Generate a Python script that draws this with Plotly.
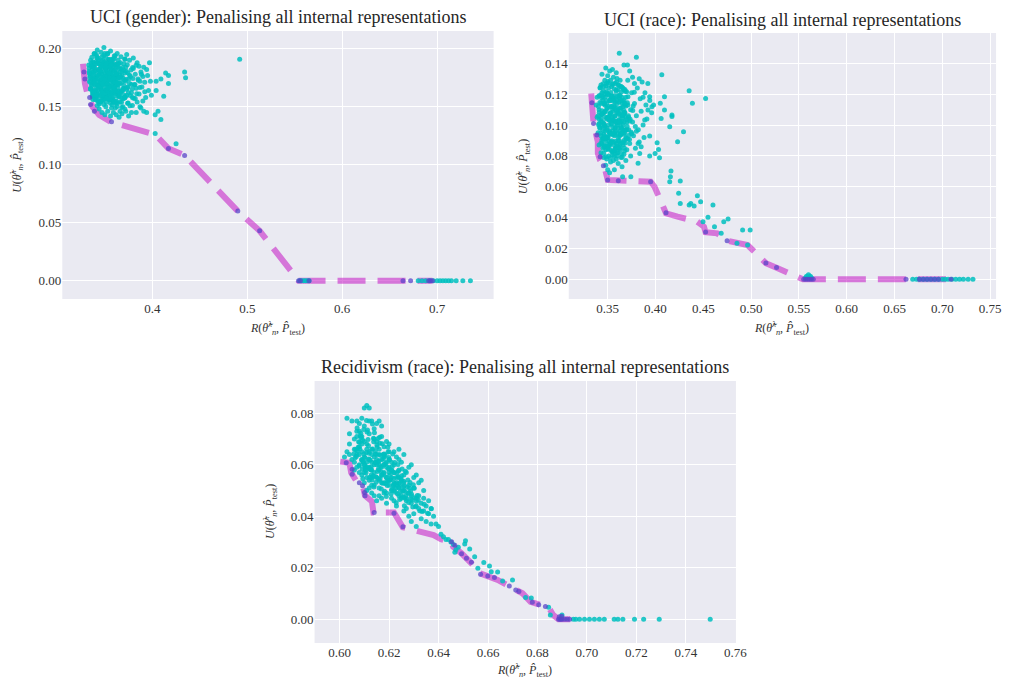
import plotly.graph_objects as go

# ---------------- UCI (gender) ----------------
gender_front_R = [0.327, 0.329, 0.332, 0.337, 0.344, 0.356, 0.403, 0.417, 0.434, 0.490, 0.513, 0.554, 0.565, 0.664, 0.672, 0.691, 0.695]
gender_front_U = [0.187, 0.170, 0.160, 0.150, 0.143, 0.137, 0.126, 0.114, 0.108, 0.060, 0.043, 0.0, 0.0, 0.0, 0.0, 0.0, 0.0]
gender_pareto_R = [0.328, 0.329, 0.334, 0.335, 0.339, 0.357, 0.417, 0.434, 0.490, 0.513, 0.554, 0.556, 0.565, 0.664, 0.672, 0.691, 0.693, 0.695]
gender_pareto_U = [0.180, 0.174, 0.158, 0.152, 0.146, 0.137, 0.114, 0.108, 0.060, 0.043, 0.0, 0.0, 0.0, 0.0, 0.0, 0.0, 0.0, 0.0]
gender_cloud_R = [
    0.333, 0.336, 0.338, 0.335, 0.339, 0.341, 0.343, 0.340, 0.344, 0.342,
    0.345, 0.347, 0.346, 0.348, 0.349, 0.347, 0.350, 0.351, 0.352, 0.353,
    0.354, 0.352, 0.355, 0.356, 0.357, 0.358, 0.356, 0.359, 0.360, 0.358,
    0.361, 0.362, 0.363, 0.361, 0.364, 0.365, 0.363, 0.366, 0.337, 0.339,
    0.334, 0.336, 0.338, 0.340, 0.342, 0.341, 0.344, 0.346, 0.345, 0.343,
    0.348, 0.349, 0.350, 0.351, 0.353, 0.352, 0.354, 0.355, 0.357, 0.356,
    0.359, 0.360, 0.358, 0.361, 0.362, 0.364, 0.365, 0.363, 0.366, 0.367,
    0.368, 0.369, 0.370, 0.371, 0.372, 0.370, 0.373, 0.374, 0.372, 0.335,
    0.337, 0.339, 0.340, 0.342, 0.344, 0.346, 0.348, 0.350, 0.352, 0.354,
    0.355, 0.357, 0.359, 0.361, 0.362, 0.364, 0.366, 0.368, 0.369, 0.371,
    0.334, 0.338, 0.341, 0.343, 0.345, 0.347, 0.349, 0.351, 0.353, 0.355,
    0.357, 0.359, 0.360, 0.362, 0.364, 0.366, 0.368, 0.370, 0.372, 0.374,
    0.376, 0.377, 0.378, 0.379, 0.380, 0.381, 0.382, 0.383, 0.384, 0.385,
    0.386, 0.387, 0.388, 0.389, 0.390, 0.391, 0.392, 0.393, 0.394, 0.395,
    0.396, 0.397, 0.398, 0.399, 0.376, 0.378, 0.380, 0.382, 0.384, 0.386,
    0.388, 0.390, 0.392, 0.394, 0.379, 0.383, 0.387, 0.391, 0.375, 0.373,
    0.339, 0.342, 0.346, 0.349, 0.353, 0.356, 0.360, 0.363, 0.367, 0.371,
    0.344, 0.347, 0.350, 0.353, 0.356, 0.359, 0.362, 0.365, 0.368, 0.371,
    0.336, 0.338, 0.340, 0.342, 0.344, 0.346, 0.348, 0.350, 0.352, 0.354,
    0.356, 0.358, 0.360, 0.362, 0.345, 0.349, 0.353, 0.357, 0.347, 0.351,
    0.3335, 0.3347, 0.3362, 0.3371, 0.3384, 0.3393, 0.3405, 0.3417, 0.3428, 0.3436,
    0.3449, 0.3458, 0.3466, 0.3477, 0.3489, 0.3495, 0.3508, 0.3516, 0.3527, 0.3539,
    0.3544, 0.3558, 0.3563, 0.3577, 0.3585, 0.3596, 0.3604, 0.3615, 0.3626, 0.3638,
    0.3341, 0.3356, 0.3368, 0.3379, 0.3387, 0.3398, 0.3411, 0.3423, 0.3432, 0.3441,
    0.3453, 0.3464, 0.3472, 0.3483, 0.3491, 0.3503, 0.3512, 0.3524, 0.3533, 0.3547,
    0.3552, 0.3569, 0.3574, 0.3581, 0.3592, 0.3607, 0.3618, 0.3631, 0.3645, 0.3657,
    0.3338, 0.3352, 0.3365, 0.3376, 0.3392, 0.3403, 0.3414, 0.3426, 0.3439, 0.3445,
    0.3457, 0.3469, 0.3481, 0.3493, 0.3506, 0.3518, 0.3529, 0.3537, 0.3549, 0.3561,
    0.3572, 0.3588, 0.3599, 0.3611, 0.3622, 0.3641, 0.3652, 0.3668, 0.3675, 0.3689,
    0.3694, 0.3702, 0.3715, 0.3723, 0.3736, 0.3748, 0.3759, 0.3764, 0.3781, 0.3793,
    0.3343, 0.3358, 0.3369, 0.3382, 0.3395, 0.3401, 0.3413, 0.3421, 0.3434, 0.3447,
    0.3452, 0.3461, 0.3474, 0.3486, 0.3498, 0.3502, 0.3513, 0.3526, 0.3531, 0.3542,
    0.3556, 0.3565, 0.3579, 0.3583, 0.3594, 0.3608, 0.3613, 0.3624, 0.3636, 0.3649,
    0.3654, 0.3663, 0.3677, 0.3682, 0.3696, 0.3708, 0.3713, 0.3727, 0.3739, 0.3745,
    0.3337, 0.3349, 0.3363, 0.3374, 0.3386, 0.3397, 0.3409, 0.3418, 0.3431, 0.3443,
    0.3455, 0.3467, 0.3479, 0.3484, 0.3497, 0.3509, 0.3514, 0.3528, 0.3535, 0.3548,
    0.3559, 0.3567, 0.3576, 0.3587, 0.3598, 0.3606, 0.3617, 0.3629, 0.3634, 0.3647,
    0.3659, 0.3666, 0.3678, 0.3687, 0.3699, 0.3711, 0.3724, 0.3738, 0.3752, 0.3767,
    0.3775, 0.3788, 0.3796, 0.3804, 0.3817, 0.3829, 0.3836, 0.3852, 0.3868, 0.3885,
    0.492, 0.434, 0.435, 0.414, 0.417, 0.417, 0.409, 0.404, 0.404, 0.412,
    0.406, 0.403, 0.409, 0.403, 0.425,
    0.555, 0.557, 0.559, 0.561, 0.563, 0.565, 0.680, 0.684, 0.688, 0.692,
    0.696, 0.700, 0.703, 0.706, 0.709, 0.712, 0.715, 0.720, 0.727, 0.735,
]
gender_cloud_U = [
    0.186, 0.179, 0.171, 0.165, 0.158, 0.189, 0.182, 0.175, 0.168, 0.161,
    0.154, 0.193, 0.185, 0.177, 0.170, 0.163, 0.157, 0.150, 0.188, 0.181,
    0.174, 0.167, 0.160, 0.153, 0.191, 0.184, 0.178, 0.171, 0.164, 0.158,
    0.149, 0.186, 0.179, 0.172, 0.166, 0.159, 0.153, 0.146, 0.183, 0.176,
    0.172, 0.168, 0.162, 0.156, 0.151, 0.195, 0.187, 0.180, 0.173, 0.165,
    0.159, 0.152, 0.196, 0.183, 0.176, 0.170, 0.163, 0.156, 0.149, 0.188,
    0.181, 0.175, 0.168, 0.161, 0.155, 0.190, 0.183, 0.176, 0.170, 0.163,
    0.157, 0.150, 0.187, 0.179, 0.172, 0.166, 0.160, 0.153, 0.146, 0.190,
    0.160, 0.184, 0.169, 0.177, 0.159, 0.171, 0.186, 0.164, 0.178, 0.191,
    0.168, 0.175, 0.162, 0.182, 0.169, 0.175, 0.180, 0.171, 0.164, 0.158,
    0.178, 0.188, 0.163, 0.192, 0.162, 0.156, 0.181, 0.173, 0.160, 0.184,
    0.165, 0.154, 0.187, 0.178, 0.161, 0.154, 0.177, 0.160, 0.184, 0.167,
    0.190, 0.176, 0.162, 0.151, 0.183, 0.169, 0.157, 0.145, 0.188, 0.174,
    0.161, 0.150, 0.180, 0.167, 0.155, 0.184, 0.171, 0.158, 0.145, 0.177,
    0.164, 0.188, 0.172, 0.160, 0.170, 0.145, 0.192, 0.178, 0.154, 0.185,
    0.149, 0.176, 0.163, 0.182, 0.158, 0.166, 0.172, 0.146, 0.142, 0.195,
    0.196, 0.199, 0.197, 0.201, 0.196, 0.198, 0.194, 0.196, 0.193, 0.191,
    0.148, 0.145, 0.143, 0.146, 0.142, 0.145, 0.143, 0.141, 0.144, 0.148,
    0.174, 0.180, 0.164, 0.171, 0.178, 0.165, 0.174, 0.169, 0.162, 0.178,
    0.171, 0.176, 0.168, 0.163, 0.183, 0.188, 0.186, 0.182, 0.168, 0.158,
    0.1832, 0.1763, 0.1694, 0.1887, 0.1628, 0.1805, 0.1741, 0.1917, 0.1553, 0.1679,
    0.1866, 0.1597, 0.1783, 0.1712, 0.1941, 0.1649, 0.1821, 0.1538, 0.1756, 0.1688,
    0.1903, 0.1619, 0.1797, 0.1724, 0.1571, 0.1858, 0.1663, 0.1779, 0.1592, 0.1731,
    0.1752, 0.1873, 0.1585, 0.1728, 0.1956, 0.1651, 0.1808, 0.1686, 0.1769, 0.1524,
    0.1724, 0.1896, 0.1637, 0.1842, 0.1579, 0.1763, 0.1921, 0.1705, 0.1846, 0.1613,
    0.1789, 0.1668, 0.1883, 0.1559, 0.1743, 0.1817, 0.1695, 0.1868, 0.1634, 0.1772,
    0.1794, 0.1657, 0.1845, 0.1611, 0.1742, 0.1583, 0.1934, 0.1547, 0.1819, 0.1706,
    0.1675, 0.1739, 0.1558, 0.1884, 0.1792, 0.1643, 0.1731, 0.1877, 0.1561, 0.1835,
    0.1627, 0.1909, 0.1713, 0.1546, 0.1857, 0.1689, 0.1602, 0.1826, 0.1539, 0.1748,
    0.1655, 0.1813, 0.1587, 0.1736, 0.1862, 0.1623, 0.1774, 0.1508, 0.1691, 0.1839,
    0.1712, 0.1853, 0.1627, 0.1779, 0.1694, 0.1868, 0.1591, 0.1744, 0.1901, 0.1663,
    0.1808, 0.1549, 0.1695, 0.1852, 0.1603, 0.1761, 0.1879, 0.1648, 0.1797, 0.1566,
    0.1734, 0.1895, 0.1612, 0.1785, 0.1661, 0.1937, 0.1529, 0.1708, 0.1846, 0.1586,
    0.1753, 0.1879, 0.1637, 0.1806, 0.1569, 0.1728, 0.1912, 0.1651, 0.1794, 0.1532,
    0.1805, 0.1655, 0.1926, 0.1562, 0.1839, 0.1723, 0.1599, 0.1874, 0.1677, 0.1815,
    0.1542, 0.1751, 0.1898, 0.1616, 0.1732, 0.1842, 0.1574, 0.1957, 0.1661, 0.1787,
    0.1605, 0.1861, 0.1518, 0.1744, 0.1915, 0.1639, 0.1783, 0.1502, 0.1701, 0.1873,
    0.1621, 0.1754, 0.1493, 0.1838, 0.1682, 0.1578, 0.1806, 0.1664, 0.1739, 0.1597,
    0.1816, 0.1652, 0.1743, 0.1574, 0.1691, 0.1857, 0.1612, 0.1728, 0.1665, 0.1781,
    0.191, 0.180, 0.175, 0.179, 0.177, 0.170, 0.174, 0.172, 0.164, 0.159,
    0.146, 0.143, 0.139, 0.127, 0.118,
    0.0, 0.0, 0.0, 0.0, 0.0, 0.0, 0.0, 0.0, 0.0, 0.0,
    0.0, 0.0, 0.0, 0.0, 0.0, 0.0, 0.0, 0.0, 0.0, 0.0,
]

# ---------------- UCI (race) ----------------
race_front_R = [0.3328, 0.3335, 0.3352, 0.3397, 0.3397, 0.342, 0.3466, 0.350, 0.3949, 0.399, 0.411, 0.4231, 0.4438, 0.4507, 0.4524, 0.4645, 0.4749, 0.4963, 0.5155, 0.5266, 0.5542, 0.7128]
race_front_U = [0.1205, 0.108, 0.101, 0.0892, 0.0817, 0.0773, 0.073, 0.0644, 0.0633, 0.060, 0.0428, 0.0406, 0.0373, 0.0341, 0.0305, 0.0298, 0.025, 0.0222, 0.0104, 0.0075, 0.0, 0.0]
race_pareto_R = [0.3335, 0.3352, 0.3386, 0.3421, 0.3455, 0.350, 0.3611, 0.3949, 0.411, 0.4524, 0.4749, 0.5155, 0.5266,
                 0.555, 0.557, 0.559, 0.561, 0.563, 0.565, 0.662, 0.676, 0.680, 0.684, 0.688, 0.692, 0.696, 0.709]
race_pareto_U = [0.1145, 0.101, 0.0935, 0.0795, 0.0736, 0.0644, 0.0639, 0.0633, 0.0432, 0.0307, 0.025, 0.0106, 0.0077,
                 0.0, 0.0, 0.0, 0.0, 0.0, 0.0, 0.0, 0.0, 0.0, 0.0, 0.0, 0.0, 0.0, 0.0]
race_cloud_R = [
    0.339, 0.341, 0.343, 0.340, 0.344, 0.342, 0.345, 0.346, 0.347, 0.345,
    0.348, 0.349, 0.350, 0.351, 0.349, 0.352, 0.353, 0.351, 0.354, 0.355,
    0.356, 0.354, 0.357, 0.358, 0.356, 0.359, 0.360, 0.358, 0.361, 0.362,
    0.360, 0.363, 0.364, 0.362, 0.365, 0.366, 0.364, 0.367, 0.368, 0.366,
    0.369, 0.370, 0.368, 0.371, 0.372, 0.370, 0.340, 0.342, 0.343, 0.344,
    0.346, 0.347, 0.348, 0.350, 0.352, 0.353, 0.355, 0.357, 0.359, 0.361,
    0.363, 0.365, 0.367, 0.341, 0.343, 0.346, 0.348, 0.350, 0.353, 0.355,
    0.357, 0.359, 0.361, 0.363, 0.365, 0.367, 0.369, 0.347, 0.350, 0.353,
    0.356, 0.358, 0.361, 0.363, 0.366, 0.344, 0.348, 0.352, 0.355, 0.359,
    0.338, 0.339, 0.341, 0.343, 0.345, 0.349, 0.351, 0.352, 0.354, 0.356,
    0.358, 0.360, 0.362, 0.364, 0.366, 0.368, 0.370, 0.372, 0.374, 0.373,
    0.375, 0.376, 0.377, 0.378, 0.379, 0.380, 0.381, 0.382, 0.383, 0.384,
    0.385, 0.386, 0.387, 0.388, 0.389, 0.390, 0.374, 0.376, 0.378, 0.380,
    0.383, 0.385, 0.387, 0.391, 0.392, 0.394, 0.396, 0.398, 0.371, 0.373,
    0.347, 0.349, 0.351, 0.353, 0.355, 0.357, 0.359, 0.361, 0.363, 0.365,
    0.344, 0.346, 0.348, 0.350, 0.352, 0.354, 0.356, 0.358, 0.360, 0.362,
    0.367, 0.369, 0.371, 0.364, 0.357, 0.352, 0.349, 0.346, 0.343, 0.341,
    0.3412, 0.3425, 0.3437, 0.3446, 0.3458, 0.3463, 0.3471, 0.3482, 0.3494, 0.3503,
    0.3511, 0.3522, 0.3534, 0.3541, 0.3553, 0.3567, 0.3572, 0.3584, 0.3595, 0.3606,
    0.3614, 0.3627, 0.3638, 0.3642, 0.3656, 0.3664, 0.3679, 0.3687, 0.3418, 0.3429,
    0.3441, 0.3452, 0.3467, 0.3476, 0.3488, 0.3497, 0.3506, 0.3518, 0.3529, 0.3536,
    0.3548, 0.3559, 0.3563, 0.3578, 0.3589, 0.3597, 0.3609, 0.3618, 0.3623, 0.3634,
    0.3647, 0.3658, 0.3669, 0.3674, 0.3691, 0.3703, 0.3716, 0.3728, 0.3405, 0.3433,
    0.3456, 0.3474, 0.3491, 0.3515, 0.3538, 0.3557, 0.3574, 0.3592, 0.3613, 0.3631,
    0.3652, 0.3671, 0.3448, 0.3469, 0.3486, 0.3509, 0.3527, 0.3546, 0.3569, 0.3588,
    0.3603, 0.3626, 0.3645, 0.3662, 0.3683, 0.3698, 0.3735, 0.3752, 0.3767, 0.3789,
    0.3403, 0.3416, 0.3422, 0.3435, 0.3448, 0.3451, 0.3465, 0.3473, 0.3484, 0.3496,
    0.3501, 0.3514, 0.3526, 0.3532, 0.3545, 0.3551, 0.3566, 0.3571, 0.3583, 0.3598,
    0.3604, 0.3617, 0.3622, 0.3636, 0.3649, 0.3653, 0.3667, 0.3676, 0.3684, 0.3697,
    0.3409, 0.3427, 0.3439, 0.3444, 0.3459, 0.3468, 0.3479, 0.3487, 0.3499, 0.3508,
    0.3517, 0.3524, 0.3539, 0.3543, 0.3556, 0.3564, 0.3577, 0.3586, 0.3593, 0.3607,
    0.3611, 0.3624, 0.3633, 0.3641, 0.3654, 0.3668, 0.3673, 0.3688, 0.3706, 0.3719,
    0.3442, 0.3461, 0.3478, 0.3493, 0.3512, 0.3533, 0.3549, 0.3568, 0.3587, 0.3605,
    0.3621, 0.3639, 0.3657, 0.3678, 0.3694, 0.3712, 0.3731, 0.3746, 0.3762, 0.3778,
    0.3457, 0.3481, 0.3504, 0.3528, 0.3552, 0.3576, 0.3599, 0.3628, 0.3651, 0.3677,
    0.3621, 0.380, 0.367, 0.3707, 0.4066, 0.4352, 0.4524, 0.4386, 0.4094, 0.405,
    0.4094, 0.4059, 0.4172, 0.4172, 0.4149, 0.4293, 0.4231, 0.4017, 0.4032, 0.4042,
    0.3939, 0.3996, 0.4162, 0.4156, 0.4149, 0.4259, 0.4242, 0.4259, 0.4352, 0.4369,
    0.4404, 0.4438, 0.4472, 0.4601, 0.4497, 0.4549, 0.4617, 0.4714, 0.4759, 0.4687,
    0.4911, 0.499, 0.4963, 0.4852, 0.3939, 0.3962, 0.3921, 0.3887, 0.3939, 0.3818,
    0.3835, 0.3818, 0.3742, 0.3656,
    0.558, 0.560, 0.562, 0.557, 0.563, 0.669, 0.673, 0.676, 0.680, 0.684,
    0.688, 0.692, 0.696, 0.700, 0.703, 0.706, 0.710, 0.714, 0.718, 0.722,
    0.727, 0.732,
]
race_cloud_U = [
    0.118, 0.110, 0.102, 0.095, 0.088, 0.124, 0.116, 0.108, 0.099, 0.091,
    0.084, 0.127, 0.120, 0.112, 0.104, 0.096, 0.088, 0.080, 0.125, 0.117,
    0.109, 0.101, 0.093, 0.085, 0.077, 0.122, 0.114, 0.106, 0.098, 0.090,
    0.082, 0.119, 0.111, 0.103, 0.095, 0.087, 0.079, 0.116, 0.108, 0.100,
    0.092, 0.084, 0.123, 0.113, 0.105, 0.097, 0.106, 0.098, 0.114, 0.121,
    0.094, 0.113, 0.105, 0.092, 0.116, 0.108, 0.096, 0.119, 0.102, 0.110,
    0.094, 0.106, 0.090, 0.087, 0.082, 0.079, 0.074, 0.071, 0.076, 0.083,
    0.071, 0.078, 0.075, 0.084, 0.073, 0.081, 0.077, 0.129, 0.132, 0.129,
    0.131, 0.127, 0.126, 0.129, 0.124, 0.133, 0.137, 0.135, 0.136, 0.134,
    0.113, 0.105, 0.101, 0.093, 0.085, 0.097, 0.100, 0.087, 0.112, 0.103,
    0.096, 0.108, 0.115, 0.099, 0.112, 0.095, 0.102, 0.097, 0.110, 0.088,
    0.121, 0.102, 0.093, 0.114, 0.085, 0.106, 0.124, 0.097, 0.089, 0.117,
    0.109, 0.128, 0.100, 0.092, 0.121, 0.113, 0.080, 0.131, 0.127, 0.096,
    0.130, 0.086, 0.118, 0.104, 0.127, 0.116, 0.108, 0.113, 0.129, 0.135,
    0.120, 0.111, 0.124, 0.117, 0.105, 0.112, 0.088, 0.092, 0.102, 0.118,
    0.107, 0.101, 0.090, 0.085, 0.103, 0.094, 0.089, 0.115, 0.100, 0.085,
    0.107, 0.118, 0.091, 0.125, 0.080, 0.069, 0.078, 0.086, 0.126, 0.119,
    0.1083, 0.0947, 0.1176, 0.1021, 0.0873, 0.1138, 0.0962, 0.1254, 0.1047, 0.0918,
    0.1197, 0.1072, 0.0836, 0.1121, 0.0984, 0.1236, 0.1057, 0.0895, 0.1163, 0.1012,
    0.0856, 0.1109, 0.0937, 0.1214, 0.1046, 0.0889, 0.1132, 0.0968, 0.1147, 0.0882,
    0.1093, 0.1268, 0.0995, 0.1182, 0.0861, 0.1108, 0.1273, 0.0951, 0.1076, 0.1189,
    0.0824, 0.1031, 0.1152, 0.0977, 0.1228, 0.0863, 0.1084, 0.1177, 0.0929, 0.1058,
    0.1247, 0.0973, 0.1096, 0.0851, 0.1124, 0.0992, 0.1061, 0.0907, 0.1002, 0.1042,
    0.1221, 0.0909, 0.1138, 0.0863, 0.1006, 0.1164, 0.0938, 0.1279, 0.1033, 0.0876,
    0.1142, 0.1019, 0.0967, 0.1087, 0.0917, 0.1049, 0.0944, 0.1263, 0.0869, 0.1015,
    0.1188, 0.0958, 0.0812, 0.1072, 0.0884, 0.1216, 0.1038, 0.0943, 0.1124, 0.0991,
    0.1121, 0.0986, 0.1243, 0.1068, 0.0915, 0.1186, 0.1003, 0.0861, 0.1159, 0.0979,
    0.1283, 0.0893, 0.1067, 0.1211, 0.0941, 0.1102, 0.0828, 0.1173, 0.1025, 0.1302,
    0.0949, 0.1073, 0.1193, 0.0884, 0.1026, 0.1156, 0.0942, 0.1081, 0.1219, 0.1036,
    0.1041, 0.1195, 0.0903, 0.1072, 0.1249, 0.0931, 0.1089, 0.1216, 0.0874, 0.1051,
    0.0942, 0.1157, 0.1036, 0.0899, 0.1268, 0.1121, 0.0985, 0.0849, 0.1109, 0.1231,
    0.0897, 0.1018, 0.1162, 0.0943, 0.1083, 0.1229, 0.0967, 0.1049, 0.1145, 0.0932,
    0.0996, 0.1143, 0.0918, 0.1206, 0.1034, 0.0891, 0.1187, 0.0948, 0.1097, 0.0821,
    0.1256, 0.0981, 0.1062, 0.1141, 0.0913, 0.1183, 0.1027, 0.0954, 0.1094, 0.1212,
    0.0817, 0.0795, 0.0843, 0.0788, 0.0806, 0.0839, 0.0799, 0.0852, 0.0791, 0.0834,
    0.1465, 0.1439, 0.1389, 0.1389, 0.1326, 0.1222, 0.1173, 0.1141, 0.1183, 0.1142,
    0.1098, 0.1043, 0.1065, 0.1055, 0.0989, 0.0957, 0.0892, 0.0885, 0.0842, 0.0788,
    0.0799, 0.0816, 0.0702, 0.0665, 0.0633, 0.0637, 0.0557, 0.0492, 0.0481, 0.0492,
    0.0475, 0.0542, 0.0503, 0.0481, 0.0373, 0.0402, 0.0341, 0.0373, 0.039, 0.0298,
    0.032, 0.032, 0.0222, 0.0233, 0.1183, 0.1119, 0.1097, 0.1032, 0.0929, 0.0881,
    0.0816, 0.0752, 0.0665, 0.0665,
    0.002, 0.003, 0.002, 0.001, 0.001, 0.0, 0.0, 0.0, 0.0, 0.0,
    0.0, 0.0, 0.0, 0.0, 0.0, 0.0, 0.0, 0.0, 0.0, 0.0,
    0.0, 0.0,
]

# ---------------- Recidivism (race) ----------------
recid_front_R = [0.6003, 0.604, 0.6047, 0.6067, 0.6093, 0.6103, 0.6131, 0.6137, 0.6173, 0.622, 0.6256, 0.630, 0.638, 0.641,
                 0.6453, 0.6459, 0.6493, 0.6539, 0.6566, 0.6639, 0.6679, 0.6739, 0.6772, 0.6845, 0.6863, 0.6885, 0.6932]
recid_front_U = [0.0612, 0.0608, 0.0569, 0.0538, 0.0522, 0.048, 0.0457, 0.0415, 0.0415, 0.0415, 0.0357, 0.0347, 0.0327, 0.0311,
                 0.0301, 0.0282, 0.0256, 0.0211, 0.0179, 0.0153, 0.0133, 0.0101, 0.0068, 0.0047, 0.0017, 0.0, 0.0]
recid_pareto_R = [0.6027, 0.6051, 0.6051, 0.608, 0.6093, 0.6101, 0.6103, 0.614, 0.622, 0.6256, 0.6453, 0.6466, 0.6493, 0.6513,
                  0.6533, 0.657, 0.6599, 0.6626, 0.6686, 0.6712, 0.6725, 0.6779, 0.6805, 0.6832, 0.6885, 0.689, 0.6895,
                  0.690, 0.691, 0.692, 0.693, 0.6888, 0.6898]
recid_pareto_U = [0.0608, 0.0582, 0.0563, 0.053, 0.0518, 0.0492, 0.048, 0.0415, 0.0412, 0.0359, 0.0301, 0.0287, 0.0254, 0.0237,
                  0.0221, 0.0175, 0.0168, 0.0162, 0.0129, 0.0114, 0.0108, 0.0066, 0.0056, 0.005, 0.0, 0.0, 0.0,
                  0.0, 0.0, 0.0, 0.0, 0.001, 0.0012]
recid_cloud_R = [
    0.606, 0.607, 0.608, 0.609, 0.610, 0.611, 0.612, 0.613, 0.614, 0.615,
    0.616, 0.617, 0.618, 0.604, 0.606, 0.608, 0.610, 0.612, 0.614, 0.616,
    0.605, 0.606, 0.607, 0.608, 0.609, 0.610, 0.611, 0.612, 0.613, 0.614,
    0.615, 0.616, 0.617, 0.618, 0.619, 0.620, 0.621, 0.622, 0.623, 0.624,
    0.606, 0.608, 0.610, 0.611, 0.613, 0.615, 0.617, 0.619, 0.621, 0.625,
    0.609, 0.612, 0.614, 0.616, 0.618, 0.620, 0.607, 0.609, 0.611, 0.613,
    0.610, 0.611, 0.612, 0.613, 0.614, 0.615, 0.616, 0.617, 0.618, 0.619,
    0.620, 0.621, 0.622, 0.623, 0.624, 0.625, 0.626, 0.627, 0.628, 0.629,
    0.630, 0.631, 0.632, 0.612, 0.614, 0.616, 0.618, 0.620, 0.622, 0.624,
    0.626, 0.628, 0.615, 0.619, 0.621, 0.623, 0.625, 0.627, 0.629, 0.631,
    0.626, 0.628, 0.630, 0.632, 0.633, 0.634, 0.635, 0.636, 0.637, 0.638,
    0.629, 0.631, 0.633, 0.634, 0.635, 0.636, 0.637, 0.632, 0.634, 0.630,
    0.603, 0.605, 0.607, 0.609, 0.611, 0.610, 0.612, 0.613, 0.615, 0.617,
    0.604, 0.603, 0.602, 0.604, 0.619, 0.620, 0.622, 0.624, 0.626, 0.628,
    0.627, 0.629, 0.631, 0.633, 0.607, 0.608, 0.620, 0.622, 0.624, 0.626,
    0.608, 0.609, 0.610, 0.611, 0.612, 0.613, 0.614, 0.615, 0.616, 0.617,
    0.618, 0.619, 0.620, 0.621, 0.622, 0.623, 0.624, 0.617, 0.616, 0.613,
    0.6072, 0.6084, 0.6091, 0.6103, 0.6115, 0.6122, 0.6134, 0.6141, 0.6153, 0.6166,
    0.6174, 0.6187, 0.6195, 0.6206, 0.6213, 0.6227, 0.6238, 0.6246, 0.6259, 0.6268,
    0.6077, 0.6089, 0.6098, 0.6107, 0.6119, 0.6128, 0.6137, 0.6148, 0.6159, 0.6163,
    0.6178, 0.6182, 0.6199, 0.6204, 0.6217, 0.6223, 0.6234, 0.6251, 0.6263, 0.6274,
    0.6068, 0.6082, 0.6095, 0.6111, 0.6126, 0.6139, 0.6144, 0.6157, 0.6169, 0.6181,
    0.6192, 0.6208, 0.6219, 0.6231, 0.6243, 0.6255, 0.6279, 0.6287, 0.6296, 0.6304,
    0.6093, 0.6105, 0.6118, 0.6131, 0.6146, 0.6151, 0.6164, 0.6176, 0.6189, 0.6197,
    0.6211, 0.6229, 0.6241, 0.6262, 0.6283, 0.6311, 0.6324, 0.6342, 0.6356, 0.6371,
    0.6063, 0.6075, 0.6087, 0.6096, 0.6108, 0.6113, 0.6126, 0.6138, 0.6147, 0.6155,
    0.6162, 0.6171, 0.6184, 0.6193, 0.6201, 0.6215, 0.6224, 0.6236, 0.6248, 0.6257,
    0.6266, 0.6277, 0.6285, 0.6293, 0.6302, 0.6314, 0.6065, 0.6079, 0.6086, 0.6099,
    0.6104, 0.6117, 0.6124, 0.6133, 0.6145, 0.6158, 0.6167, 0.6173, 0.6185, 0.6196,
    0.6203, 0.6212, 0.6226, 0.6237, 0.6244, 0.6253, 0.6265, 0.6276, 0.6289, 0.6298,
    0.6071, 0.6094, 0.6109, 0.6121, 0.6136, 0.6143, 0.6156, 0.6168, 0.6177, 0.6188,
    0.6202, 0.6218, 0.6232, 0.6249, 0.6261, 0.6272, 0.6291, 0.6307, 0.6318, 0.6333,
    0.6058, 0.6081, 0.6102, 0.6129, 0.6152, 0.6179, 0.6198, 0.6221, 0.6239, 0.6258,
    0.639, 0.640, 0.641, 0.642, 0.643, 0.644, 0.645, 0.646, 0.647, 0.648,
    0.6509, 0.6506, 0.6526, 0.6466, 0.6546, 0.6583, 0.6606, 0.6559, 0.6613, 0.6639,
    0.6699, 0.6659, 0.6752, 0.6775, 0.6845, 0.6852, 0.6899,
    0.6945, 0.6955, 0.697, 0.699, 0.701, 0.703, 0.705, 0.707, 0.711, 0.7125,
    0.7145, 0.7192, 0.7229, 0.7292, 0.7498,
]
recid_cloud_U = [
    0.070, 0.073, 0.067, 0.071, 0.075, 0.068, 0.072, 0.066, 0.074, 0.069,
    0.077, 0.071, 0.067, 0.068, 0.066, 0.076, 0.069, 0.077, 0.070, 0.066,
    0.062, 0.058, 0.064, 0.060, 0.056, 0.063, 0.059, 0.065, 0.061, 0.057,
    0.064, 0.060, 0.056, 0.063, 0.059, 0.065, 0.061, 0.057, 0.063, 0.058,
    0.061, 0.057, 0.060, 0.055, 0.058, 0.060, 0.062, 0.055, 0.058, 0.061,
    0.065, 0.062, 0.063, 0.058, 0.060, 0.062, 0.059, 0.062, 0.066, 0.064,
    0.053, 0.050, 0.054, 0.049, 0.052, 0.055, 0.051, 0.047, 0.053, 0.049,
    0.054, 0.050, 0.046, 0.052, 0.048, 0.054, 0.050, 0.046, 0.052, 0.048,
    0.051, 0.047, 0.053, 0.051, 0.048, 0.054, 0.049, 0.052, 0.053, 0.051,
    0.053, 0.049, 0.046, 0.045, 0.047, 0.044, 0.047, 0.043, 0.045, 0.044,
    0.042, 0.040, 0.041, 0.043, 0.039, 0.042, 0.038, 0.041, 0.037, 0.040,
    0.038, 0.036, 0.045, 0.047, 0.044, 0.046, 0.043, 0.048, 0.050, 0.055,
    0.078, 0.077, 0.077, 0.078, 0.083, 0.082, 0.082, 0.077, 0.076, 0.075,
    0.072, 0.065, 0.063, 0.064, 0.069, 0.068, 0.065, 0.066, 0.064, 0.059,
    0.057, 0.060, 0.056, 0.054, 0.071, 0.073, 0.057, 0.060, 0.055, 0.056,
    0.064, 0.068, 0.057, 0.061, 0.059, 0.055, 0.060, 0.062, 0.064, 0.059,
    0.057, 0.061, 0.059, 0.055, 0.050, 0.055, 0.062, 0.053, 0.048, 0.052,
    0.0654, 0.0712, 0.0583, 0.0627, 0.0698, 0.0551, 0.0661, 0.0724, 0.0574, 0.0637,
    0.0528, 0.0605, 0.0668, 0.0542, 0.0593, 0.0511, 0.0576, 0.0497, 0.0536, 0.0479,
    0.0689, 0.0618, 0.0737, 0.0569, 0.0645, 0.0592, 0.0703, 0.0532, 0.0614, 0.0683,
    0.0566, 0.0497, 0.0628, 0.0561, 0.0518, 0.0609, 0.0487, 0.0557, 0.0471, 0.0514,
    0.0632, 0.0661, 0.0611, 0.0727, 0.0581, 0.0514, 0.0652, 0.0583, 0.0506, 0.0642,
    0.0538, 0.0486, 0.0547, 0.0531, 0.0465, 0.0498, 0.0453, 0.0498, 0.0436, 0.0472,
    0.0696, 0.0579, 0.0622, 0.0541, 0.0609, 0.0677, 0.0546, 0.0621, 0.0477, 0.0584,
    0.0505, 0.0452, 0.0529, 0.0441, 0.0509, 0.0458, 0.0421, 0.0447, 0.0412, 0.0429,
    0.0627, 0.0668, 0.0705, 0.0612, 0.0647, 0.0735, 0.0581, 0.0689, 0.0553, 0.0612,
    0.0707, 0.0559, 0.0636, 0.0519, 0.0583, 0.0642, 0.0527, 0.0601, 0.0546, 0.0513,
    0.0575, 0.0489, 0.0531, 0.0462, 0.0509, 0.0481, 0.0659, 0.0596, 0.0722, 0.0642,
    0.0586, 0.0674, 0.0617, 0.0758, 0.0641, 0.0546, 0.0593, 0.0681, 0.0526, 0.0649,
    0.0542, 0.0577, 0.0493, 0.0553, 0.0524, 0.0583, 0.0496, 0.0541, 0.0467, 0.0522,
    0.0743, 0.0546, 0.0772, 0.0583, 0.0556, 0.0609, 0.0702, 0.0573, 0.0641, 0.0552,
    0.0619, 0.0522, 0.0569, 0.0482, 0.0518, 0.0468, 0.0485, 0.0437, 0.0463, 0.0418,
    0.0643, 0.0687, 0.0598, 0.0561, 0.0669, 0.0601, 0.0537, 0.0569, 0.0513, 0.0475,
    0.037, 0.036, 0.033, 0.032, 0.031, 0.031, 0.030, 0.029, 0.027, 0.028,
    0.0305, 0.0292, 0.0273, 0.026, 0.0243, 0.022, 0.0207, 0.0198, 0.0185, 0.0184,
    0.0153, 0.0149, 0.0085, 0.0083, 0.0047, 0.0017, 0.0017,
    0.0, 0.0, 0.0, 0.0, 0.0, 0.0, 0.0, 0.0, 0.0, 0.0,
    0.0, 0.0, 0.0, 0.0, 0.0,
]

# ---------------- axes / labels ----------------
titles = ["UCI (gender): Penalising all internal representations",
          "UCI (race): Penalising all internal representations",
          "Recidivism (race): Penalising all internal representations"]
gender_xticks = [0.4, 0.5, 0.6, 0.7]
gender_yticks = [0.00, 0.05, 0.10, 0.15, 0.20]
race_xticks = [0.35, 0.40, 0.45, 0.50, 0.55, 0.60, 0.65, 0.70, 0.75]
race_yticks = [0.00, 0.02, 0.04, 0.06, 0.08, 0.10, 0.12, 0.14]
recid_xticks = [0.60, 0.62, 0.64, 0.66, 0.68, 0.70, 0.72, 0.74, 0.76]
recid_yticks = [0.00, 0.02, 0.04, 0.06, 0.08]

XLABEL = "<i>R</i>(<i>\u03b8\u0303</i><sup><i>\u03bb</i></sup><sub><i>n</i></sub>, <i>P\u0302</i><sub>test</sub>)"
YLABEL = "<i>U</i>(<i>\u03b8\u0303</i><sup><i>\u03bb</i></sup><sub><i>n</i></sub>, <i>P\u0302</i><sub>test</sub>)"

W, H = 1015, 683
FONT = "Liberation Serif, 'DejaVu Serif', serif"
CYAN = "rgba(0,191,191,0.85)"
MAG = "rgba(191,0,191,0.5)"
PURP = "rgba(90,70,200,0.75)"

fig = go.Figure()
panels = [
    (gender_cloud_R, gender_cloud_U, gender_front_R, gender_front_U, gender_pareto_R, gender_pareto_U, "x", "y"),
    (race_cloud_R, race_cloud_U, race_front_R, race_front_U, race_pareto_R, race_pareto_U, "x2", "y2"),
    (recid_cloud_R, recid_cloud_U, recid_front_R, recid_front_U, recid_pareto_R, recid_pareto_U, "x3", "y3"),
]
for cr, cu, fr, fu, pr, pu, xa, ya in panels:
    fig.add_trace(go.Scatter(x=fr, y=fu, mode="lines", xaxis=xa, yaxis=ya, showlegend=False,
                             line=dict(color=MAG, width=6, dash="28px,12px")))
    fig.add_trace(go.Scatter(x=cr, y=cu, mode="markers", xaxis=xa, yaxis=ya, showlegend=False,
                             marker=dict(color=CYAN, size=5, line=dict(width=0))))
    fig.add_trace(go.Scatter(x=pr, y=pu, mode="markers", xaxis=xa, yaxis=ya, showlegend=False,
                             marker=dict(color=PURP, size=5, line=dict(width=0))))

def px_dom(a, b, total):
    return [a / total, b / total]

def py_dom(top, bottom):
    return [1 - bottom / H, 1 - top / H]

common = dict(showgrid=True, gridcolor="white", gridwidth=1.2, zeroline=False, showline=False,
              ticks="", tickfont=dict(family=FONT, size=13, color="#333333"))

fig.update_layout(
    width=W, height=H, margin=dict(l=0, r=0, t=0, b=0),
    paper_bgcolor="white", plot_bgcolor="#EAEAF2",
    font=dict(family=FONT),
    xaxis=dict(domain=px_dom(63, 499, W), range=[0.3052, 0.7594], tickvals=gender_xticks,
               ticktext=[f"{v:.1f}" for v in gender_xticks], anchor="y", **common),
    yaxis=dict(domain=py_dom(31, 299), range=[-0.0158, 0.2153], tickvals=gender_yticks,
               ticktext=[f"{v:.2f}" for v in gender_yticks], anchor="x", **common),
    xaxis2=dict(domain=px_dom(575, 1007, W), range=[0.3093, 0.7562], tickvals=race_xticks,
                ticktext=[f"{v:.2f}" for v in race_xticks], anchor="y2", **common),
    yaxis2=dict(domain=py_dom(33, 299), range=[-0.0128, 0.1597], tickvals=race_yticks,
                ticktext=[f"{v:.2f}" for v in race_yticks], anchor="x2", **common),
    xaxis3=dict(domain=px_dom(318, 744, W), range=[0.5899, 0.7602], tickvals=recid_xticks,
                ticktext=[f"{v:.2f}" for v in recid_xticks], anchor="y3", **common),
    yaxis3=dict(domain=py_dom(381, 643), range=[-0.0092, 0.0925], tickvals=recid_yticks,
                ticktext=[f"{v:.2f}" for v in recid_yticks], anchor="x3", **common),
)

def ann(text, xpx, ypx, size, angle=0, color="#262626"):
    fig.add_annotation(text=text, x=xpx / W, y=1 - ypx / H, xref="paper", yref="paper",
                       showarrow=False, xanchor="center", yanchor="middle", textangle=angle,
                       font=dict(family=FONT, size=size, color=color))

ann(titles[0], 281, 17, 18)
ann(titles[1], 791, 20, 18)
ann(titles[2], 531, 367, 18)
ann(XLABEL, 281, 328, 12, color="#333333")
ann(XLABEL, 790, 328, 12, color="#333333")
ann(XLABEL, 530, 670, 12, color="#333333")
ann(YLABEL, 17, 165, 12, angle=-90, color="#333333")
ann(YLABEL, 530, 167, 12, angle=-90, color="#333333")
ann(YLABEL, 273, 512, 12, angle=-90, color="#333333")

fig.write_html("out.html", config={"displayModeBar": False},
               post_script="document.body.style.margin='0';")
